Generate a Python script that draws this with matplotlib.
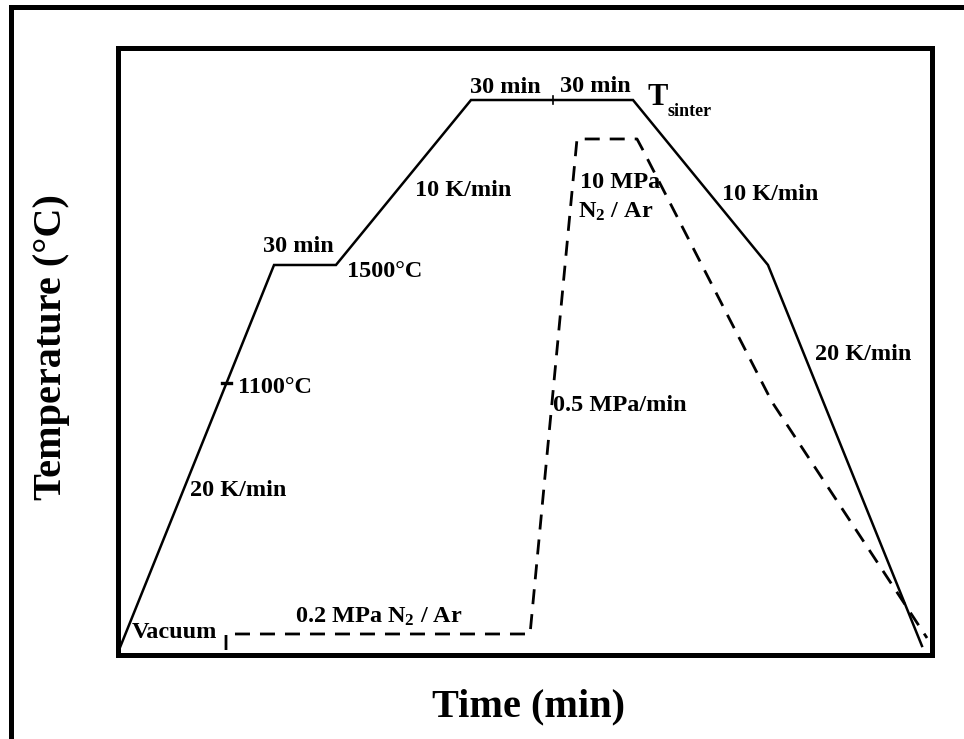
import matplotlib
matplotlib.use("Agg")
import matplotlib.pyplot as plt
from matplotlib.lines import Line2D

plt.rcParams['font.family'] = ['Liberation Serif', 'DejaVu Serif']
plt.rcParams['font.weight'] = 'bold'
plt.rcParams['mathtext.fontset'] = 'custom'
plt.rcParams['mathtext.rm'] = 'Liberation Serif:bold'
plt.rcParams['mathtext.default'] = 'regular'
plt.rcParams['lines.scale_dashes'] = False

# Schematic sintering cycle (relative units, 0-100 on both axes)
temp_time = [0.18, 19.23, 26.84, 43.43, 63.33, 79.91, 98.83]
temp_level = [0.74, 64.17, 64.17, 91.35, 91.35, 64.17, 1.40]

pres_time = [13.33, 13.33, 50.68, 56.45, 63.82, 64.55, 80.41, 99.45]
pres_level = [0.74, 3.38, 3.38, 84.93, 84.93, 83.10, 41.60, 2.72]

# markers on the temperature profile
mark_1100 = (13.39, 44.73)
mark_hold_split = (53.50, 91.35)

# annotations: (text, x, y, fontsize)
annotations = [
    ("Vacuum", 1.78, 2.72, 17.5),
    ("0.2 MPa N$_2$ / Ar", 21.81, 5.19, 17.5),
    ("20 K/min", 8.91, 26.11, 17.5),
    ("1100°C", 14.80, 43.08, 17.5),
    ("30 min", 17.87, 66.31, 17.5),
    ("1500°C", 28.19, 62.19, 17.5),
    ("10 K/min", 36.55, 75.54, 17.5),
    ("30 min", 43.30, 92.50, 17.5),
    ("30 min", 54.36, 92.67, 17.5),
    ("10 MPa", 56.82, 76.85, 17.5),
    ("N$_2$ / Ar", 56.57, 71.91, 17.5),
    ("10 K/min", 74.26, 74.88, 17.5),
    ("20 K/min", 85.69, 48.52, 17.5),
    ("0.5 MPa/min", 53.50, 40.12, 17.5),
]

W, H = 964, 739
fig = plt.figure(figsize=(W / 100, H / 100), dpi=100)
ax = fig.add_axes([117.5 / W, 1 - 654.5 / H, 814 / W, 607 / H])
ax.set_xlim(0, 100)
ax.set_ylim(0, 100)
ax.set_xticks([])
ax.set_yticks([])
for sp in ax.spines.values():
    sp.set_linewidth(3.6)
    sp.set_color('black')

ax.plot(temp_time, temp_level, color='black', lw=1.8, solid_joinstyle='miter')
ax.plot(pres_time, pres_level, color='black', lw=2.0, dashes=(10.8, 7.2))

# small tick marks on the temperature curve
ax.plot([mark_1100[0] - 0.6, mark_1100[0] + 0.6], [mark_1100[1]] * 2,
        color='black', lw=2.4)
ax.plot([mark_hold_split[0]] * 2,
        [mark_hold_split[1] - 0.7, mark_hold_split[1] + 0.7],
        color='black', lw=1.2)

for txt, x, y, fs in annotations:
    ax.text(x, y, txt, fontsize=fs, fontweight='bold', ha='left',
            va='baseline')

ax.text(65.05, 90.53, "T", fontsize=22, fontweight='bold', ha='left',
        va='baseline')
ax.text(67.51, 88.71, "sinter", fontsize=13, fontweight='bold', ha='left',
        va='baseline')

fig.text(52 / W, 1 - 347 / H, "Temperature (°C)", fontsize=29,
         fontweight='bold', rotation=90, ha='center', va='center')
fig.text(528 / W, 1 - 707 / H, "Time (min)", fontsize=29,
         fontweight='bold', ha='center', va='center')

# outer frame (left and top edges)
fig.add_artist(Line2D([10.5 / W, 10.5 / W], [-0.01, 1 - 6.5 / H],
                      transform=fig.transFigure, color='black', lw=3.6,
                      solid_capstyle='projecting'))
fig.add_artist(Line2D([10.5 / W, 1.01], [1 - 6.5 / H, 1 - 6.5 / H],
                      transform=fig.transFigure, color='black', lw=3.6,
                      solid_capstyle='projecting'))

fig.savefig("out.png", dpi=100)
